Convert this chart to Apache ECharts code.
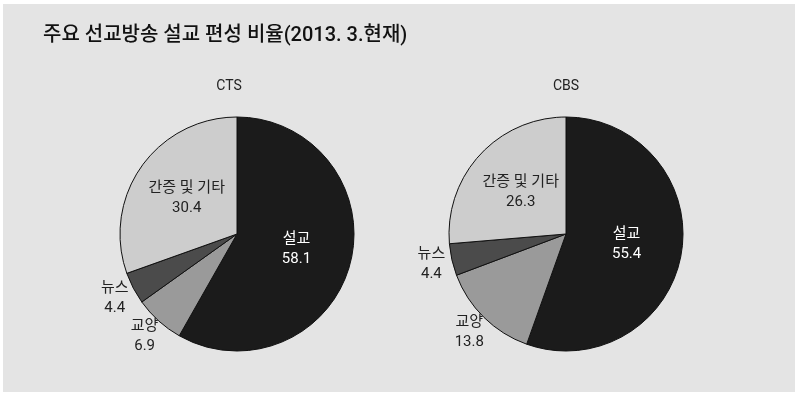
<!DOCTYPE html>
<html><head><meta charset="utf-8">
<script src="https://cdn.jsdelivr.net/npm/echarts@6/dist/echarts.min.js"></script>
<style>
html,body{margin:0;padding:0;background:#ffffff;}
#c{position:absolute;left:0;top:0;width:795px;height:395px;}
</style></head>
<body><div id="c"></div>
<script>
const titleText = '주요 선교방송 설교 편성 비율(2013. 3.현재)';
const channels = ['CTS', 'CBS'];
const categories = ['설교', '교양', '뉴스', '간증 및 기타'];
const ctsValues = [58.1, 6.9, 4.4, 30.4];
const cbsValues = [55.4, 13.8, 4.4, 26.3];
const sliceColors = ['#1b1b1b', '#9a9a9a', '#4b4b4b', '#cdcdcd'];
const insideLabelCats = ['설교', '간증 및 기타'];

const FONT = "Roboto, 'Noto Sans CJK KR', sans-serif";
const centers = [[237, 234], [566, 234]];
const R = 117;
const allValues = [ctsValues, cbsValues];

const chart = echarts.init(document.getElementById('c'), null, {renderer: 'canvas'});

const series = [];
allValues.forEach((vals, si) => {
  const mainData = categories.map((name, i) => ({
    name, value: vals[i],
    itemStyle: {color: sliceColors[i]},
    label: {
      show: insideLabelCats.includes(name),
      color: name === '설교' ? '#ffffff' : '#222222'
    }
  }));
  series.push({
    type: 'pie', center: centers[si], radius: [0, R],
    startAngle: 90, clockwise: true, silent: true,
    itemStyle: {borderColor: '#111', borderWidth: 1},
    label: {position: 'inside', formatter: '{b}\n{c}', fontFamily: FONT, fontSize: 15, lineHeight: 20, align: 'center'},
    labelLine: {show: false},
    emphasis: {disabled: true},
    data: mainData
  });
  const outerData = categories.map((name, i) => ({
    name, value: vals[i],
    label: {show: !insideLabelCats.includes(name)}
  }));
  series.push({
    type: 'pie', center: centers[si], radius: [R, R + 36],
    startAngle: 90, clockwise: true, silent: true,
    itemStyle: {color: 'rgba(0,0,0,0)', borderWidth: 0},
    label: {position: 'inside', formatter: '{b}\n{c}', fontFamily: FONT, fontSize: 15, lineHeight: 20, color: '#222222', align: 'center'},
    labelLine: {show: false},
    emphasis: {disabled: true},
    data: outerData
  });
});

chart.setOption({
  backgroundColor: '#ffffff',
  animation: false,
  graphic: [{type: 'rect', silent: true, z: -10, shape: {x: 3, y: 4, width: 792, height: 388}, style: {fill: '#e4e4e4'}}],
  title: [
    {text: titleText, left: 38, top: 21, textStyle: {fontFamily: FONT, fontSize: 20, fontWeight: 500, color: '#111'}},
    {text: channels[0], left: 224, top: 75, textAlign: 'center', textStyle: {fontFamily: FONT, fontSize: 14, fontWeight: 'normal', color: '#222'}},
    {text: channels[1], left: 561, top: 75, textAlign: 'center', textStyle: {fontFamily: FONT, fontSize: 14, fontWeight: 'normal', color: '#222'}}
  ],
  series
});
</script></body></html>
